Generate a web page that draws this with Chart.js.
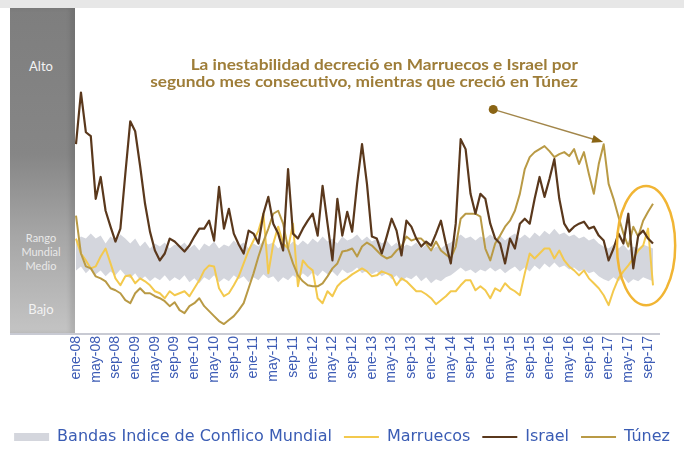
<!DOCTYPE html>
<html>
<head>
<meta charset="utf-8">
<script src="https://cdn.jsdelivr.net/npm/chart.js@4.4.1/dist/chart.umd.min.js"></script>
<style>
  html, body { margin: 0; padding: 0; background: #ffffff; }
  #wrap { position: relative; width: 684px; height: 450px; overflow: hidden; background: #fff; }
  #topbar { position: absolute; left: 0; top: 0; width: 684px; height: 8px; background: #e7e7e7; }
  #c { position: absolute; left: 0; top: 0; }
  #panel {
    position: absolute; left: 10px; top: 8px; width: 65px; height: 325px;
    background: linear-gradient(to bottom, #7e7e7e 0%, #868686 45%, #a6a6a6 70%, #c4c4c4 100%);
    box-shadow: inset -5px 0 4px rgba(0,0,0,0.10);
    font-family: Lato, "Open Sans", sans-serif; color: #f3f3f3; text-align: center;
  }
  #panel div { position: absolute; left: 0; width: 62px; }
  #alto { top: 50px; font-size: 13px; line-height: 16px; }
  #medio { top: 223px; font-size: 11px; line-height: 14px; color: #e9e9e9; }
  #bajo { top: 293px; font-size: 13px; line-height: 16px; }
  #note {
    position: absolute; right: 106px; top: 56px; text-align: right;
    font-family: Lato, "Open Sans", sans-serif; font-weight: bold; font-size: 15px; line-height: 17px;
    color: #9e7d38; white-space: nowrap;
    transform: scaleX(1.15); transform-origin: right top;
  }
</style>
</head>
<body>
<div id="wrap">
  <div id="topbar"></div>
  <canvas id="c" width="684" height="450"></canvas>
  <div id="panel">
    <div id="alto">Alto</div>
    <div id="medio">Rango<br>Mundial<br>Medio</div>
    <div id="bajo">Bajo</div>
  </div>
  <div id="note">La inestabilidad decreció en Marruecos e Israel por<br>segundo mes consecutivo, mientras que creció en Túnez</div>
</div>
<script>
// ---- categories ----
const monthNames = ['ene','feb','mar','abr','may','jun','jul','ago','sep','oct','nov','dic'];
const yearNames = ['08','09','10','11','12','13','14','15','16','17'];
const monthCount = 118; // ene-08 .. oct-17

// ---- series (index points) ----
const bandHigh = [
  92,97,95,100,95,98,90,97,93,99,
  95,90,95,87,92,85,90,87,91,85,
  89,87,91,85,89,83,90,87,92,85,
  89,87,93,88,91,85,90,87,93,89,
  91,85,90,87,92,88,93,89,95,91,
  97,92,95,90,97,93,95,99,93,97,
  92,95,90,93,87,91,85,89,87,91,
  85,89,83,87,85,89,91,95,99,95,
  97,93,97,95,99,95,98,93,97,100,
  95,99,95,101,97,103,99,105,99,101,
  97,99,95,97,93,95,90,87,85,89,
  85,89,83,87,85,89,87,85
];
const bandLow = [
  63,67,60,65,59,63,57,62,58,64,
  58,55,60,53,57,52,56,53,58,52,
  56,53,58,51,55,50,56,53,58,51,
  55,52,58,54,57,51,56,53,59,55,
  57,51,56,53,58,54,60,56,61,57,
  63,59,62,57,64,60,62,66,60,63,
  59,62,57,60,54,58,52,56,54,58,
  52,56,50,54,52,56,58,62,66,62,
  64,60,64,62,66,62,65,60,64,67,
  62,66,62,68,64,70,66,71,66,68,
  64,66,62,64,60,62,57,54,52,56,
  52,56,50,54,52,56,54,52
];
const marruecos = [
  95,80,73,65,67,77,85,70,55,48,
  57,58,50,55,52,48,42,40,35,42,
  38,40,42,37,45,53,63,68,67,45,
  37,40,48,57,70,83,93,103,120,60,
  90,107,90,85,110,47,73,67,63,35,
  30,42,37,47,52,55,59,62,65,62,
  57,58,62,60,58,48,55,52,47,42,
  42,39,35,29,33,37,42,42,48,53,
  53,43,47,43,35,45,42,50,45,42,
  38,60,80,75,80,85,85,75,83,73,
  67,63,58,63,55,50,45,38,28,43,
  55,62,68,75,83,88,105,48
];
const israel = [
  190,242,202,198,135,157,123,107,92,105,
  160,213,203,168,130,102,83,73,80,95,
  92,87,82,88,97,105,105,113,93,147,
  105,125,100,89,80,103,100,90,120,137,
  110,100,83,165,100,95,105,113,120,98,
  148,110,73,135,98,122,102,150,190,150,
  97,95,80,97,115,103,78,113,107,95,
  87,92,88,100,113,90,70,110,195,185,
  140,120,140,135,110,95,90,70,95,85,
  110,115,110,135,157,137,155,175,135,110,
  102,107,110,112,105,107,98,93,73,85,
  100,90,120,65,98,103,95,90
];
const tunez = [
  118,80,67,65,57,55,52,45,43,40,
  33,30,40,45,40,40,37,35,32,27,
  31,23,20,27,30,35,27,22,17,12,
  9,13,17,23,30,45,60,77,92,105,
  120,123,110,85,70,58,52,48,47,47,
  50,57,65,70,82,83,85,77,87,91,
  88,83,78,75,77,83,87,97,93,95,
  95,90,83,92,83,79,75,87,115,120,
  120,120,117,85,73,90,98,107,113,123,
  140,165,177,182,185,188,183,177,180,182,
  178,185,170,182,160,140,170,190,150,135,
  117,100,87,107,97,113,122,130
];

// annotation anchors (month index, index value)
const arrowFrom = { index: 84.6, value: 225 };
const arrowTo = { index: 106.3, value: 193 };
const circleCenter = { index: 115.6, value: 88 };
const circleRadius = { months: 5.9, value: 60 };

// build category labels
const labels = [];
for (const y of yearNames) {
  for (const m of monthNames) {
    if (labels.length < monthCount) labels.push(m + '-' + y);
  }
}

const decorations = {
  id: 'decorations',
  afterDatasetsDraw(chart) {
    const { ctx, scales } = chart;
    const x = scales.x, y = scales.y;
    ctx.save();
    // extended axis line
    ctx.strokeStyle = '#c8cad3';
    ctx.lineWidth = 2;
    ctx.beginPath();
    ctx.moveTo(10, chart.chartArea.bottom + 1);
    ctx.lineTo(660, chart.chartArea.bottom + 1);
    ctx.stroke();
    // ellipse
    const cx = x.getPixelForValue(circleCenter.index);
    const cy = y.getPixelForValue(circleCenter.value);
    const rx = x.getPixelForValue(circleCenter.index + circleRadius.months) - cx;
    const ry = y.getPixelForValue(0) - y.getPixelForValue(circleRadius.value);
    ctx.strokeStyle = '#f1b534';
    ctx.lineWidth = 2.5;
    ctx.beginPath();
    ctx.ellipse(cx, cy, rx, ry, 0, 0, Math.PI * 2);
    ctx.stroke();
    // arrow
    const x1 = x.getPixelForValue(arrowFrom.index), y1 = y.getPixelForValue(arrowFrom.value);
    const x2 = x.getPixelForValue(arrowTo.index), y2 = y.getPixelForValue(arrowTo.value);
    ctx.strokeStyle = '#a2864a';
    ctx.lineWidth = 1.5;
    ctx.beginPath();
    ctx.moveTo(x1, y1);
    ctx.lineTo(x2, y2);
    ctx.stroke();
    const ang = Math.atan2(y2 - y1, x2 - x1);
    ctx.fillStyle = '#8a6414';
    ctx.beginPath();
    ctx.moveTo(x2 + 3 * Math.cos(ang), y2 + 3 * Math.sin(ang));
    ctx.lineTo(x2 - 8 * Math.cos(ang) + 4 * Math.sin(ang), y2 - 8 * Math.sin(ang) - 4 * Math.cos(ang));
    ctx.lineTo(x2 - 8 * Math.cos(ang) - 4 * Math.sin(ang), y2 - 8 * Math.sin(ang) + 4 * Math.cos(ang));
    ctx.closePath();
    ctx.fill();
    ctx.beginPath();
    ctx.arc(x1, y1, 4.5, 0, Math.PI * 2);
    ctx.fill();
    ctx.restore();
  }
};

new Chart(document.getElementById('c'), {
  type: 'line',
  data: {
    labels: labels,
    datasets: [
      { label: 'Bandas Indice de Conflico Mundial', data: bandHigh, borderWidth: 0, pointBorderWidth: 0,
        backgroundColor: '#d4d6dd', borderColor: '#d4d6dd', fill: '+1', pointRadius: 0,
        pointStyle: 'rect', order: 9 },
      { label: 'bandLow', data: bandLow, borderWidth: 0, pointBorderWidth: 0, backgroundColor: '#d4d6dd',
        borderColor: '#d4d6dd', fill: false, pointRadius: 0, order: 10 },
      { label: 'Marruecos', data: marruecos, borderColor: '#f3c94d', backgroundColor: '#f3c94d',
        borderWidth: 2, pointBorderWidth: 2, pointRadius: 0, pointStyle: 'line', fill: false, order: 3 },
      { label: 'Israel', data: israel, borderColor: '#5a381c', backgroundColor: '#5a381c',
        borderWidth: 2.2, pointBorderWidth: 2, pointRadius: 0, pointStyle: 'line', fill: false, order: 1 },
      { label: 'Túnez', data: tunez, borderColor: '#b99a45', backgroundColor: '#b99a45',
        borderWidth: 2, pointBorderWidth: 2, pointRadius: 0, pointStyle: 'line', fill: false, order: 2 }
    ]
  },
  options: {
    responsive: false,
    animation: false,
    devicePixelRatio: 1,
    events: [],
    layout: { padding: { top: 8, bottom: -5, left: 0, right: 0 } },
    elements: { line: { tension: 0, borderJoinStyle: 'round' } },
    scales: {
      x: {
        grid: { display: false, drawTicks: false },
        border: { display: false },
        ticks: {
          autoSkip: false, minRotation: 90, maxRotation: 90, padding: 3,
          color: '#3d5cb5', font: { family: '"Liberation Sans", Arial', size: 14 },
          callback: (v, i) => (i % 4 === 0 ? labels[i] : '')
        },
        afterFit: (s) => { s.height = 84; }
      },
      y: {
        min: 0, max: 327,
        grid: { display: false, drawTicks: false },
        border: { display: false },
        ticks: { display: false },
        afterFit: (s) => { s.width = 76; }
      },
      y2: {
        position: 'right',
        grid: { display: false, drawTicks: false },
        border: { display: false },
        ticks: { display: false },
        afterFit: (s) => { s.width = 31; }
      }
    },
    plugins: {
      tooltip: { enabled: false },
      legend: {
        position: 'bottom',
        labels: {
          usePointStyle: true, pointStyleWidth: 35, boxHeight: 8, padding: 12,
          color: '#3a5cb4', font: { family: '"DejaVu Sans"', size: 16 },
          filter: (item) => item.datasetIndex !== 1,
          sort: (a, b) => a.datasetIndex - b.datasetIndex
        }
      }
    }
  },
  plugins: [decorations]
});
</script>
</body>
</html>
